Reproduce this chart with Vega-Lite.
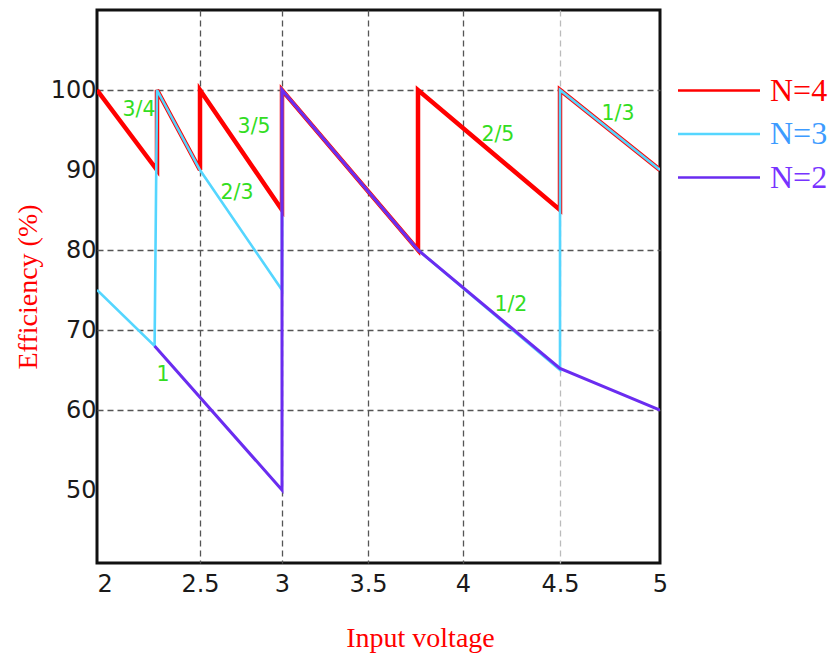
{
  "$schema": "https://vega.github.io/schema/vega-lite/v6.json",
  "width": 563,
  "height": 553,
  "autosize": {"type": "none"},
  "padding": {"left": 97, "top": 10, "right": 174, "bottom": 96},
  "background": "white",
  "config": {
    "view": {"stroke": "#111111", "strokeWidth": 3},
    "axis": {
      "domain": false,
      "ticks": false,
      "labelFont": "DejaVu Sans",
      "labelFontSize": 24,
      "labelColor": "#1a1a1a",
      "gridDash": [6, 4],
      "gridWidth": 1.3,
      "titleFont": "Liberation Serif",
      "titleFontWeight": "normal",
      "titleFontSize": 28,
      "titleColor": "#ff0000"
    }
  },
  "datasets": {
    "curves": [
      {"series": "N=4", "i": 1, "voltage": 2.0, "efficiency": 100},
      {"series": "N=4", "i": 2, "voltage": 2.25, "efficiency": 90},
      {"series": "N=4", "i": 3, "voltage": 2.25, "efficiency": 100},
      {"series": "N=4", "i": 4, "voltage": 2.5, "efficiency": 90},
      {"series": "N=4", "i": 5, "voltage": 2.5, "efficiency": 100},
      {"series": "N=4", "i": 6, "voltage": 3.0, "efficiency": 85},
      {"series": "N=4", "i": 7, "voltage": 3.0, "efficiency": 100},
      {"series": "N=4", "i": 8, "voltage": 3.75, "efficiency": 80},
      {"series": "N=4", "i": 9, "voltage": 3.75, "efficiency": 100},
      {"series": "N=4", "i": 10, "voltage": 4.5, "efficiency": 85},
      {"series": "N=4", "i": 11, "voltage": 4.5, "efficiency": 100},
      {"series": "N=4", "i": 12, "voltage": 5.0, "efficiency": 90},
      {"series": "N=3", "i": 1, "voltage": 2.0, "efficiency": 75},
      {"series": "N=3", "i": 2, "voltage": 2.24, "efficiency": 68},
      {"series": "N=3", "i": 3, "voltage": 2.25, "efficiency": 100},
      {"series": "N=3", "i": 4, "voltage": 2.5, "efficiency": 90},
      {"series": "N=3", "i": 5, "voltage": 3.0, "efficiency": 75},
      {"series": "N=3", "i": 6, "voltage": 3.0, "efficiency": 100},
      {"series": "N=3", "i": 7, "voltage": 3.75, "efficiency": 80},
      {"series": "N=3", "i": 8, "voltage": 4.5, "efficiency": 65},
      {"series": "N=3", "i": 9, "voltage": 4.5, "efficiency": 100},
      {"series": "N=3", "i": 10, "voltage": 5.0, "efficiency": 90},
      {"series": "N=2", "i": 1, "voltage": 2.24, "efficiency": 68},
      {"series": "N=2", "i": 2, "voltage": 3.0, "efficiency": 50},
      {"series": "N=2", "i": 3, "voltage": 3.0, "efficiency": 100},
      {"series": "N=2", "i": 4, "voltage": 3.75, "efficiency": 80},
      {"series": "N=2", "i": 5, "voltage": 4.5, "efficiency": 65.2},
      {"series": "N=2", "i": 6, "voltage": 5.0, "efficiency": 60}
    ],
    "ratios": [
      {"label": "3/4", "voltage": 2.175, "efficiency": 97.5},
      {"label": "3/5", "voltage": 2.83, "efficiency": 95.4},
      {"label": "2/3", "voltage": 2.726, "efficiency": 87.1},
      {"label": "1", "voltage": 2.285, "efficiency": 64.4},
      {"label": "2/5", "voltage": 4.18, "efficiency": 94.4},
      {"label": "1/3", "voltage": 4.79, "efficiency": 97},
      {"label": "1/2", "voltage": 4.247, "efficiency": 73.1}
    ]
  },
  "encoding": {
    "x": {
      "field": "voltage",
      "type": "quantitative",
      "scale": {
        "type": "linear",
        "domain": [2, 2.25, 2.5, 3, 3.5, 3.75, 4, 4.5, 5],
        "range": [0, 60, 103, 185, 271, 321, 366, 463, 563],
        "nice": false,
        "zero": false
      },
      "axis": {
        "title": "Input voltage",
        "values": [2, 2.5, 3, 3.5, 4, 4.5, 5],
        "format": ".1~f",
        "labelFlush": false,
        "labelPadding": 9,
        "labelAlign": {"condition": {"test": "datum.value === 2", "value": "left"}, "value": "center"},
        "gridColor": {"condition": {"test": "datum.value === 4.5", "value": "#bbbbbb"}, "value": "#555555"},
        "gridOpacity": {"condition": {"test": "datum.value === 2 || datum.value === 5", "value": 0}, "value": 1},
        "titlePadding": 28,
        "titleX": 323,
        "titleAlign": "center"
      }
    },
    "y": {
      "field": "efficiency",
      "type": "quantitative",
      "scale": {"domain": [40.875, 110], "nice": false, "zero": false},
      "axis": {
        "title": "Efficiency (%)",
        "values": [50, 60, 70, 80, 90, 100],
        "labelPadding": 1,
        "gridColor": "#555555",
        "gridOpacity": {"condition": {"test": "datum.value === 90 || datum.value === 50", "value": 0}, "value": 1},
        "titlePadding": 8
      }
    }
  },
  "layer": [
    {
      "data": {"name": "curves"},
      "transform": [{"filter": "datum.series === 'N=4'"}],
      "mark": {"type": "line", "strokeWidth": 4.5, "strokeJoin": "miter", "clip": true},
      "encoding": {
        "order": {"field": "i", "type": "quantitative"},
        "color": {
          "field": "series",
          "type": "nominal",
          "scale": {"domain": ["N=4", "N=3", "N=2"], "range": ["#ff0000", "#55d6ff", "#6a2cf0"]},
          "legend": {
            "orient": "none",
            "legendX": 606,
            "legendY": 64.5,
            "title": null,
            "padding": 0,
            "symbolType": "M-4.1,0L4.1,0",
            "symbolSize": 400,
            "symbolStrokeWidth": 2.5,
            "symbolFillColor": "transparent",
            "labelFont": "Liberation Serif",
            "labelFontSize": 32,
            "labelOffset": 35,
            "rowPadding": 11.5,
            "encode": {
              "labels": {
                "update": {
                  "fill": {"signal": "datum.value === 'N=4' ? '#ff0000' : datum.value === 'N=3' ? '#3d9bff' : '#7733ff'"}
                }
              }
            }
          }
        }
      }
    },
    {
      "data": {"name": "curves"},
      "transform": [{"filter": "datum.series === 'N=3'"}],
      "mark": {"type": "line", "strokeWidth": 2.6, "clip": true},
      "encoding": {
        "order": {"field": "i", "type": "quantitative"},
        "color": {"field": "series", "type": "nominal"}
      }
    },
    {
      "data": {"name": "curves"},
      "transform": [{"filter": "datum.series === 'N=2'"}],
      "mark": {"type": "line", "strokeWidth": 3, "clip": true},
      "encoding": {
        "order": {"field": "i", "type": "quantitative"},
        "color": {"field": "series", "type": "nominal"}
      }
    },
    {
      "data": {"name": "ratios"},
      "mark": {"type": "text", "font": "DejaVu Sans", "fontSize": 20.5, "color": "#33dd22", "align": "center", "baseline": "middle"},
      "encoding": {
        "text": {"field": "label", "type": "nominal"}
      }
    }
  ]
}
